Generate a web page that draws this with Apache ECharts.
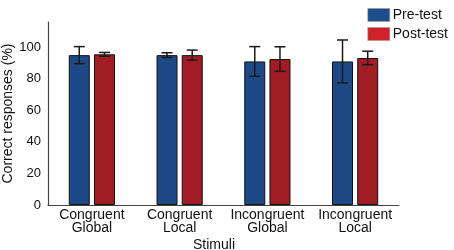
<!DOCTYPE html>
<html>
<head>
    <meta charset="utf-8">
    <title>Correct responses</title>
    <script src="https://cdn.jsdelivr.net/npm/echarts@6/dist/echarts.min.js"></script>
</head>
<body style="margin:0">
<div id="main" style="width: 454px;height:250px;"></div>
<script type="text/javascript">
    // categories and values
    var categories = ['Congruent\nGlobal', 'Congruent\nLocal', 'Incongruent\nGlobal', 'Incongruent\nLocal'];
    var preTest = [95, 95, 91, 91];
    var postTest = [95.5, 95, 92.5, 93.2];
    var preErr = [5.4, 1.5, 9.4, 13.6];
    var postErr = [1.2, 3.2, 7.8, 4.3];
    var yTicks = [0, 20, 40, 60, 80, 100];

    var blue = '#1d4a87';
    var red = '#a11d23';
    var barW = 21;
    var gapPx = 4.2;

    // error bar drawn on top of a bar; side -1 = pre, +1 = post
    function errorBars(values, errs, side) {
        var data = values.map(function (v, i) { return [i, v - errs[i], v + errs[i]]; });
        return {
            type: 'custom',
            z: 5,
            silent: true,
            renderItem: function (params, api) {
                var off = side * (barW + gapPx) / 2;
                var lo = api.coord([api.value(0), api.value(1)]);
                var hi = api.coord([api.value(0), api.value(2)]);
                var x = lo[0] + off;
                var cap = 5.5;
                var style = { stroke: '#1a1a1a', lineWidth: 1.5 };
                return {
                    type: 'group',
                    children: [
                        { type: 'line', shape: { x1: x, y1: lo[1], x2: x, y2: hi[1] }, style: style },
                        { type: 'line', shape: { x1: x - cap, y1: lo[1], x2: x + cap, y2: lo[1] }, style: style },
                        { type: 'line', shape: { x1: x - cap, y1: hi[1], x2: x + cap, y2: hi[1] }, style: style }
                    ]
                };
            },
            data: data
        };
    }

    var myChart = echarts.init(document.getElementById('main'));
    var font = 'Liberation Sans, Arial, sans-serif';

    var option = {
        animation: false,
        textStyle: { fontFamily: font },
        grid: { left: 48, right: 55, top: 22, bottom: 45, outerBoundsMode: 'none', containLabel: false },
        legend: {
            orient: 'vertical',
            right: 1,
            top: 3,
            itemWidth: 22,
            itemHeight: 13,
            itemGap: 5,
            icon: 'rect',
            textStyle: { fontSize: 14, color: '#111', fontFamily: font, padding: [0, 0, 0, -2] },
            data: [
                { name: 'Pre-test', itemStyle: { color: '#1e4d8c', borderColor: '#999', borderWidth: 0.5 } },
                { name: 'Post-test', itemStyle: { color: '#cf2229', borderColor: '#999', borderWidth: 0.5 } }
            ]
        },
        xAxis: {
            type: 'category',
            data: categories,
            name: 'Stimuli',
            nameLocation: 'middle',
            nameGap: 33,
            nameMoveOverlap: false,
            nameTextStyle: { fontSize: 14, color: '#111', padding: [0, 19, 0, 0] },
            axisLine: { lineStyle: { color: '#444', width: 1.2 } },
            axisTick: { show: false },
            axisLabel: { fontSize: 14, color: '#111', margin: 4, lineHeight: 13, interval: 0 }
        },
        yAxis: {
            type: 'value',
            min: 0,
            max: 116,
            interval: 20,
            name: 'Correct responses (%)',
            nameLocation: 'middle',
            nameGap: 33,
            nameMoveOverlap: false,
            nameTextStyle: { fontSize: 14, color: '#111' },
            axisLine: { show: true, lineStyle: { color: '#444', width: 1.2 } },
            axisTick: { show: false },
            splitLine: { show: false },
            axisLabel: {
                fontSize: 13,
                color: '#111',
                margin: 7,
                formatter: function (v) { return yTicks.indexOf(v) >= 0 ? String(v) : ''; }
            }
        },
        series: [
            {
                name: 'Pre-test',
                type: 'bar',
                barWidth: barW,
                barGap: (gapPx / barW * 100) + '%',
                itemStyle: { color: blue, borderColor: '#111', borderWidth: 1 },
                data: preTest
            },
            {
                name: 'Post-test',
                type: 'bar',
                barWidth: barW,
                itemStyle: { color: red, borderColor: '#111', borderWidth: 1 },
                data: postTest
            },
            errorBars(preTest, preErr, -1),
            errorBars(postTest, postErr, 1)
        ]
    };

    myChart.setOption(option);
</script>
</body>
</html>
